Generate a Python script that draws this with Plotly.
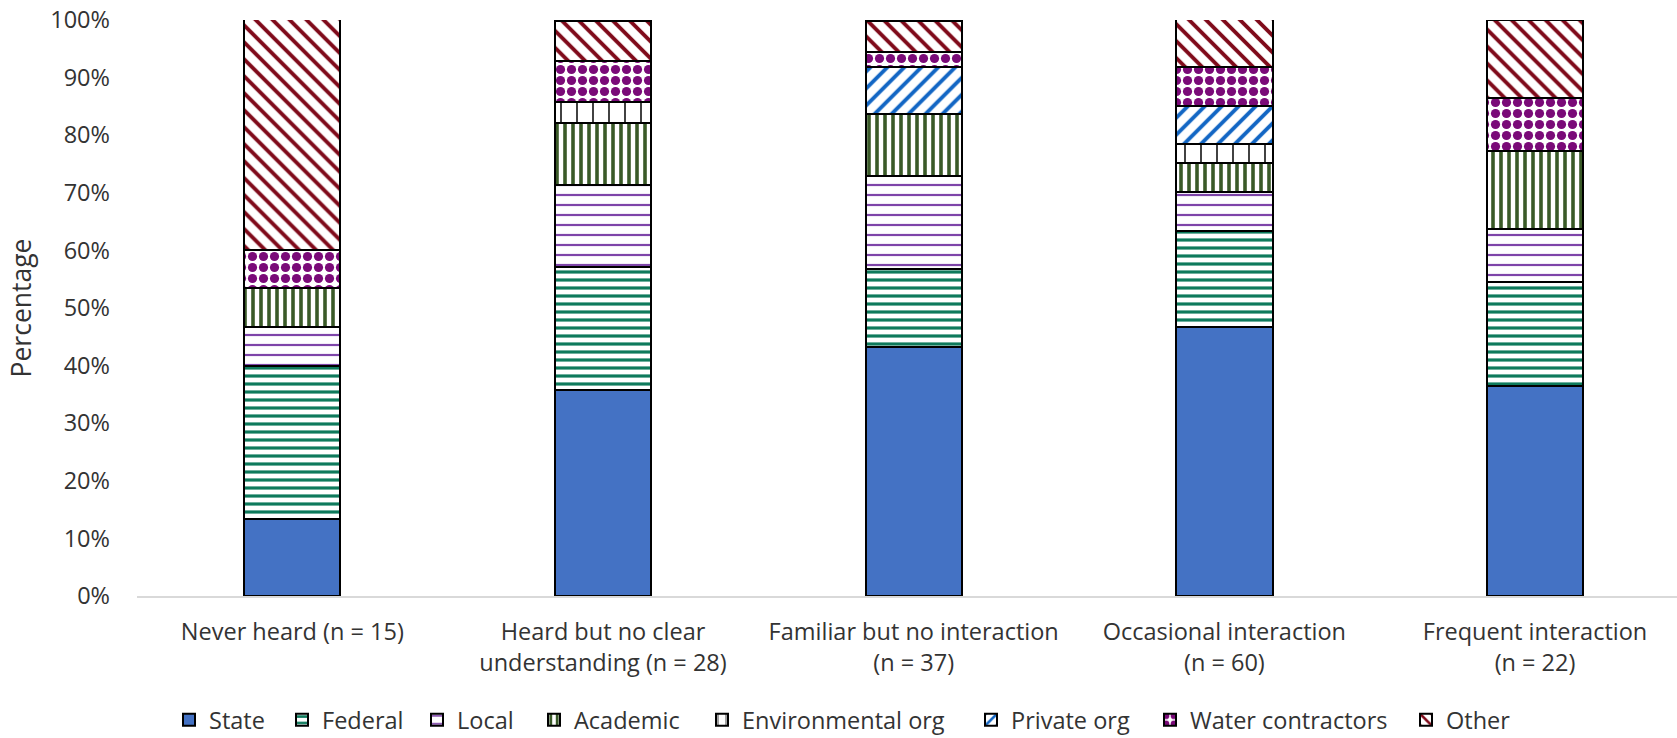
import plotly.graph_objects as go

categories = [
    "Never heard (n = 15)",
    "Heard but no clear<br>understanding (n = 28)",
    "Familiar but no interaction<br>(n = 37)",
    "Occasional interaction<br>(n = 60)",
    "Frequent interaction<br>(n = 22)",
]
series_names = ["State", "Federal", "Local", "Academic", "Environmental org",
                "Private org", "Water contractors", "Other"]
state = [13.3, 35.7, 43.2, 46.7, 36.4]
federal = [26.7, 21.4, 13.5, 16.7, 18.2]
local = [6.7, 14.3, 16.2, 6.7, 9.1]
academic = [6.7, 10.7, 10.8, 5.0, 13.6]
environmental = [0, 3.6, 0, 3.3, 0]
private = [0, 0, 8.1, 6.7, 0]
water = [6.7, 7.1, 2.7, 6.7, 9.1]
other = [40.0, 7.1, 5.4, 8.3, 13.6]
values = [state, federal, local, academic, environmental, private, water, other]

styles = [
    dict(color="#4472C4", pattern=None),
    dict(color="#0E7A5C", pattern=dict(shape="-", size=8, solidity=0.4)),
    dict(color="#7030A0", pattern=dict(shape="-", size=10, solidity=0.22, fgopacity=0.9)),
    dict(color="#3A5A28", pattern=dict(shape="|", size=8, solidity=0.45)),
    dict(color="#111111", pattern=dict(shape="|", size=16, solidity=0.1)),
    dict(color="#1266C4", pattern=dict(shape="/", size=12, solidity=0.32)),
    dict(color="#7A0A78", pattern=dict(shape=".", size=11, solidity=0.55)),
    dict(color="#7F0A1A", pattern=dict(shape="\\", size=12, solidity=0.32)),
]

# legend text start positions (pixels)
legend_text_px = [209, 322, 457, 574, 742, 1011, 1190, 1446]

W, H = 1677, 738
ML, MR, MT, MB = 137, 0, 20, 142
PW = W - ML - MR
PH = H - MT - MB

fig = go.Figure()
legend_layouts = {}
for i, (name, vals, st) in enumerate(zip(series_names, values, styles)):
    marker = dict(color=st["color"], line=dict(color="#000000", width=2))
    if st["pattern"] is not None:
        p = dict(st["pattern"])
        p.update(fillmode="replace", bgcolor="white", fgcolor=st["color"])
        marker["pattern"] = p
    key = "legend" if i == 0 else f"legend{i + 1}"
    fig.add_trace(go.Bar(name=name, x=categories, y=vals, marker=marker,
                         legend=key, showlegend=True))
    legend_layouts[key] = dict(
        orientation="h",
        x=(legend_text_px[i] - 40 - ML) / PW,
        xanchor="left",
        y=-(720 - (MT + PH)) / PH,
        yanchor="middle",
        font=dict(family="Open Sans", size=23.5, color="#333333"),
        bgcolor="rgba(0,0,0,0)",
        visible=True,
    )

fig.update_layout(
    showlegend=True,
    barmode="stack",
    bargap=0.69,
    width=W,
    height=H,
    margin=dict(l=ML, r=MR, t=MT, b=MB, autoexpand=False),
    paper_bgcolor="white",
    plot_bgcolor="white",
    font=dict(family="Open Sans", size=23.5, color="#333333"),
    **legend_layouts,
)
fig.update_xaxes(range=[-0.5, 4.457], showline=True, linecolor="#D9D9D9",
                 linewidth=2, ticks="", showgrid=False, ticklabelstandoff=14,
                 automargin=False)
fig.update_yaxes(range=[0, 100], dtick=10, ticksuffix="%", showgrid=False,
                 zeroline=False, showline=False, ticks="",
                 ticklabelstandoff=26, automargin=False,
                 title=dict(text="Percentage", standoff=10,
                            font=dict(size=26.5, color="#333333")))

fig.write_html("out.html",
               config={"displayModeBar": False},
               post_script="document.body.style.margin='0';")
